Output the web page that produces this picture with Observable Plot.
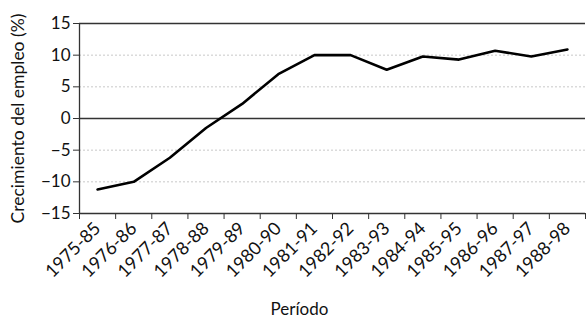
<!DOCTYPE html>
<html>
<head>
<meta charset="utf-8">
<script src="https://cdn.jsdelivr.net/npm/d3@7"></script>
<script src="https://cdn.jsdelivr.net/npm/@observablehq/plot@0.6"></script>
<style>
body{margin:0;background:#fff;}
svg{font-family:Lato,"DejaVu Sans",sans-serif;}
</style>
</head>
<body>
<div id="chart"></div>
<script>
const periods = ["1975-85","1976-86","1977-87","1978-88","1979-89","1980-90","1981-91","1982-92","1983-93","1984-94","1985-95","1986-96","1987-97","1988-98"];
const growth = [-11.2,-10.0,-6.2,-1.5,2.3,7.0,10.0,10.0,7.7,9.8,9.3,10.7,9.8,10.9];
const yTicks = [-15,-10,-5,0,5,10,15];
const gridValues = [-10,-5,5,10];

const data = periods.map((p,i)=>({i, p, v: growth[i]}));
const idx = periods.map((_,i)=>i);
const bounds = d3.range(periods.length+1).map(i=>i-0.5);

const chart = Plot.plot({
  width: 586,
  height: 317,
  marginLeft: 79,
  marginRight: 1,
  marginTop: 23,
  marginBottom: 104,
  style: {fontSize: "17px", fontFamily: "Lato, 'DejaVu Sans', sans-serif", color: "#111"},
  x: {domain: [-0.5, periods.length-0.5]},
  y: {domain: [-15, 15]},
  marks: [
    Plot.ruleY(gridValues, {stroke: "#c8c8c8", strokeDasharray: "2,2", strokeWidth: 1}),
    Plot.ruleY([0, 15], {stroke: "#333", strokeWidth: 1.3}),
    Plot.ruleY([-15], {stroke: "#333", strokeWidth: 1.3}),
    Plot.ruleX([-0.5], {stroke: "#333", strokeWidth: 1.3}),
    Plot.axisY(yTicks, {tickSize: 6, tickPadding: 3, stroke: "#333", fontSize: 17, label: null}),
    Plot.text(["Crecimiento del empleo (%)"], {frameAnchor: "left", dx: -61, rotate: -90, textAnchor: "middle", lineAnchor: "middle", fontSize: 17.5, letterSpacing: "0.5px", fill: "#111"}),
    Plot.axisX(bounds, {tickSize: 6, tickFormat: () => "", stroke: "#333", label: null}),
    Plot.axisX(idx, {tickSize: 0, tickRotate: -45, tickPadding: 12, fontSize: 18, letterSpacing: "0.05em", tickFormat: i => periods[i], label: null}),
    Plot.text(["Período"], {frameAnchor: "bottom", dx: -33, dy: 101, lineAnchor: "bottom", fontSize: 17, fill: "#111"}),
    Plot.line(data, {x: "i", y: "v", stroke: "#000", strokeWidth: 2.6, strokeLinejoin: "miter"})
  ]
});
document.getElementById("chart").appendChild(chart);
</script>
</body>
</html>
